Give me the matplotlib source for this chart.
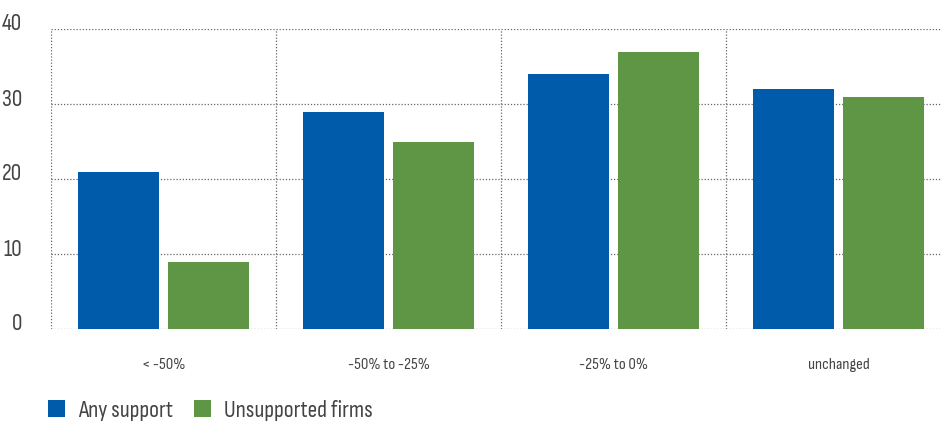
import numpy as np
import matplotlib
matplotlib.use("Agg")
from matplotlib import pyplot as plt
from matplotlib import transforms

plt.rcParams['font.family'] = ['Sofia Sans Condensed', 'DejaVu Sans']
plt.rcParams['font.weight'] = 'light'

# data
categories = ["< -50%", "-50% to -25%", "-25% to 0%", "unchanged"]
any_support = [21, 29, 34, 32]
unsupported = [9, 25, 37, 31]
series_names = ["Any support", "Unsupported firms"]
y_ticks = [0, 10, 20, 30, 40]

blue = "#005baa"
green = "#5e9645"
text_col = "#444444"
grid_col = "#666666"

fig = plt.figure(figsize=(9.41, 4.21), dpi=100)
ax = fig.add_axes([51 / 941, 1 - 329 / 421, 890 / 941, 300 / 421])

x = np.arange(len(categories))
w = 0.364
off = 0.2
ax.bar(x - off, any_support, w, color=blue, label=series_names[0], zorder=3)
ax.bar(x + off, unsupported, w, color=green, label=series_names[1], zorder=3)

ax.set_ylim(0, 40)
ax.set_xlim(-0.5, len(categories) - 0.5 - 10 / 225)

for s in ax.spines.values():
    s.set_visible(False)

# dotted grid
for yv in y_ticks:
    ax.axhline(yv, color=grid_col, lw=0.9, ls=(0, (1, 1.5)), zorder=1)
for xv in np.arange(len(categories)) - 0.5:
    ax.axvline(xv, color=grid_col, lw=0.9, ls=(0, (1, 1.5)), zorder=1)

ax.set_yticks(y_ticks)
ax.set_yticklabels([str(v) for v in y_ticks], fontsize=17, color=text_col)
ax.tick_params(axis='y', length=0, pad=21)
for lab in ax.get_yticklabels():
    lab.set_transform(lab.get_transform() + transforms.ScaledTranslation(0, 7 / 100, fig.dpi_scale_trans))

ax.set_xticks(x)
ax.set_xticklabels(categories, fontsize=12, color=text_col)
ax.tick_params(axis='x', length=0, pad=21)

fig.legend(loc='lower left', bbox_to_anchor=(27 / 941, -0.05), ncol=2, frameon=False,
           fontsize=17, handlelength=0.7, handleheight=0.7, handletextpad=0.55,
           columnspacing=0.9, labelcolor=text_col)

fig.savefig("out.png", dpi=100)
